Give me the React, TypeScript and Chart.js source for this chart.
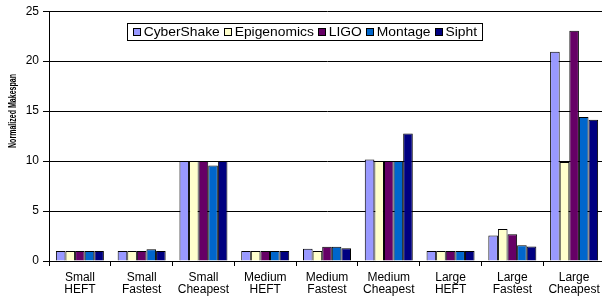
import React, { useEffect, useRef } from "react";
import { Chart, registerables } from "chart.js";

Chart.register(...registerables);

const categories: string[][] = [
  ["Small", "HEFT"],
  ["Small", "Fastest"],
  ["Small", "Cheapest"],
  ["Medium", "HEFT"],
  ["Medium", "Fastest"],
  ["Medium", "Cheapest"],
  ["Large", "HEFT"],
  ["Large", "Fastest"],
  ["Large", "Cheapest"],
];

const seriesNames = ["CyberShake", "Epigenomics", "LIGO", "Montage", "Sipht"];
const seriesColors = ["#9999FF", "#FFFFCC", "#660066", "#0066CC", "#000080"];

const cyberShake = [1, 1, 10, 1, 1.23, 10.15, 1, 2.55, 20.95];
const epigenomics = [1, 1, 10, 1, 1.0, 10, 1, 3.2, 9.9];
const ligo = [1, 1, 10, 1, 1.43, 10, 1, 2.67, 23.05];
const montage = [1, 1.17, 9.55, 1, 1.43, 10, 1, 1.57, 14.4];
const sipht = [1, 1, 10, 1, 1.28, 12.75, 1, 1.45, 14.13];

const seriesValues = [cyberShake, epigenomics, ligo, montage, sipht];

const yTicks = [0, 5, 10, 15, 20, 25];
const yTitle = "Normalized Makespan";

const FONT = "'Liberation Sans', Arial, sans-serif";

const customDraw = {
  id: "customDraw",
  afterDraw(chart: any) {
    const ctx = chart.ctx as CanvasRenderingContext2D;
    ctx.save();
    ctx.font = `bold 10px ${FONT}`;
    const tw = ctx.measureText(yTitle).width;
    ctx.translate(13, 111);
    ctx.rotate(-Math.PI / 2);
    ctx.scale(74 / tw, 1);
    ctx.fillStyle = "#000";
    ctx.textAlign = "center";
    ctx.textBaseline = "middle";
    ctx.fillText(yTitle, 0, 0);
    ctx.restore();

    ctx.save();
    ctx.font = `13px ${FONT}`;
    const sq = 8;
    const g1 = 2;
    const g2 = 4;
    const widths = seriesNames.map((n) => ctx.measureText(n).width);
    let natural = 0;
    widths.forEach((w, i) => {
      natural += sq + g1 + w + (i < widths.length - 1 ? g2 : 0);
    });
    const targetLeft = 133;
    const targetRight = 477;
    const sx = (targetRight - targetLeft) / natural;
    const boxL = 127.5;
    const boxR = 482.5;
    const boxT = 23.5;
    const boxB = 40.5;
    ctx.fillStyle = "#fff";
    ctx.fillRect(boxL, boxT, boxR - boxL, boxB - boxT);
    ctx.strokeStyle = "#000";
    ctx.lineWidth = 1;
    ctx.strokeRect(boxL, boxT, boxR - boxL, boxB - boxT);
    const cy = (boxT + boxB) / 2;
    let x = targetLeft;
    seriesNames.forEach((name, i) => {
      ctx.fillStyle = seriesColors[i];
      ctx.fillRect(Math.round(x) + 0.5, Math.round(cy - sq / 2) + 0.5, sq - 1, sq - 1);
      ctx.strokeStyle = "#000";
      ctx.strokeRect(Math.round(x) + 0.5, Math.round(cy - sq / 2) + 0.5, sq - 1, sq - 1);
      x += (sq + g1) * sx;
      ctx.save();
      ctx.translate(x, cy + 0.5);
      ctx.scale(sx, 1);
      ctx.fillStyle = "#000";
      ctx.textAlign = "left";
      ctx.textBaseline = "middle";
      ctx.fillText(name, 0, 0);
      ctx.restore();
      x += (widths[i] + g2) * sx;
    });
    ctx.restore();
  },
};

export default function App() {
  const ref = useRef<HTMLCanvasElement | null>(null);
  useEffect(() => {
    document.body.style.margin = "0";
    if (!ref.current) return;
    const chart = new Chart(ref.current, {
      type: "bar",
      data: {
        labels: categories,
        datasets: seriesNames.map((name, i) => ({
          label: name,
          data: seriesValues[i],
          backgroundColor: seriesColors[i],
          borderColor: "#000",
          borderWidth: 1,
          categoryPercentage: 0.777,
          barPercentage: 1,
        })),
      },
      options: {
        animation: false,
        responsive: false,
        devicePixelRatio: 1,
        layout: { padding: { top: 11, right: 1, left: 0, bottom: 0 } },
        plugins: {
          legend: { display: false },
          tooltip: { enabled: false },
        },
        scales: {
          x: {
            offset: true,
            grid: {
              offset: true,
              drawOnChartArea: false,
              drawTicks: true,
              tickLength: 5,
              color: "#000",
            },
            border: { display: true, color: "#000" },
            ticks: {
              color: "#000",
              font: { family: FONT, size: 12, lineHeight: 1.0 },
              padding: 6,
              maxRotation: 0,
              autoSkip: false,
            },
            afterFit: (s: any) => {
              s.height = 43;
            },
          },
          y: {
            min: 0,
            max: 25,
            afterBuildTicks: (s: any) => {
              s.ticks = yTicks.map((v) => ({ value: v }));
            },
            grid: {
              color: "#000",
              drawTicks: true,
              tickLength: 6,
            },
            border: { display: true, color: "#000" },
            ticks: {
              color: "#000",
              font: { family: FONT, size: 12 },
              padding: 4,
            },
            afterFit: (s: any) => {
              s.width = 49;
            },
          },
        },
      },
      plugins: [customDraw],
    });
    return () => chart.destroy();
  }, []);
  return (
    <div style={{ position: "fixed", left: 0, top: 0, width: 602, height: 304, overflow: "hidden", background: "#fff" }}>
      <canvas ref={ref} width={606} height={304} style={{ width: 606, height: 304, display: "block" }} />
    </div>
  );
}
